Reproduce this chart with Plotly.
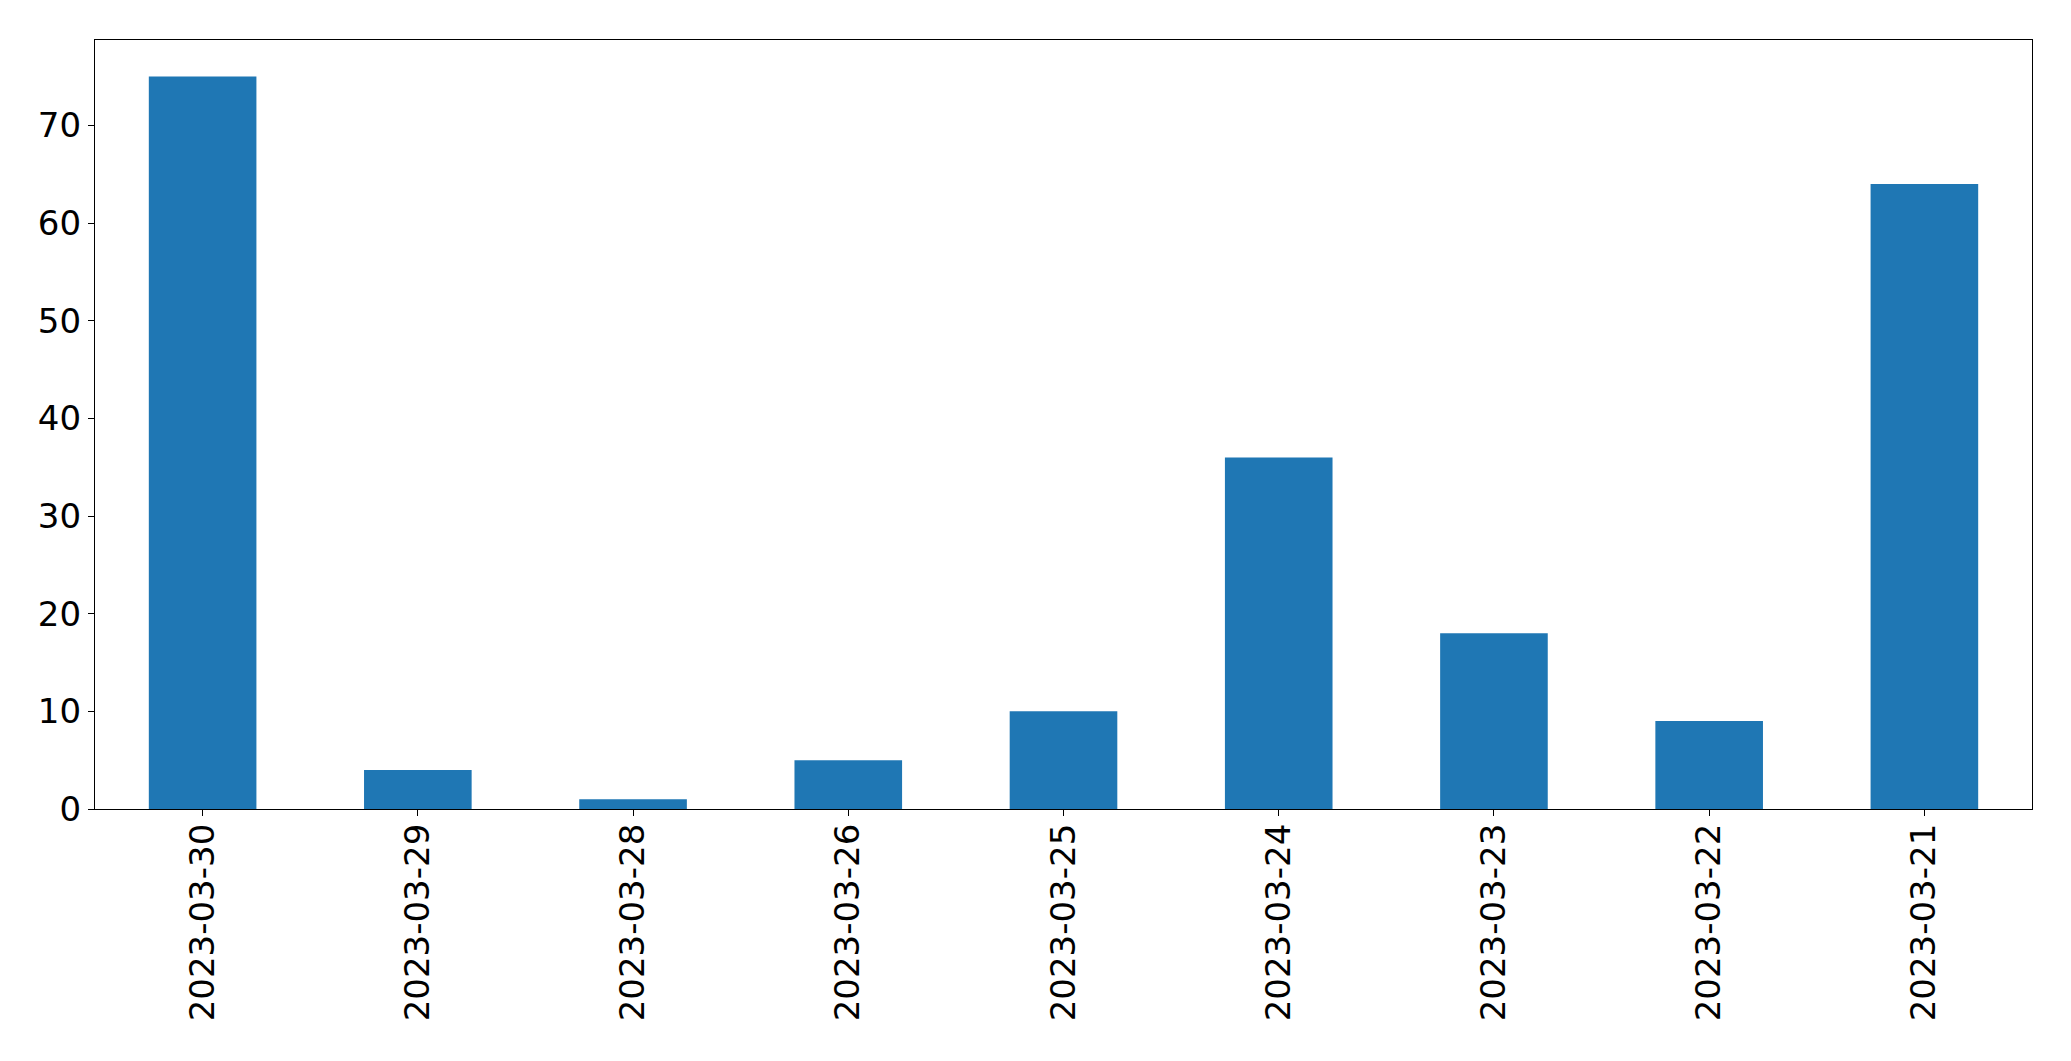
import plotly.graph_objects as go

dates = ["2023-03-30", "2023-03-29", "2023-03-28", "2023-03-26", "2023-03-25",
         "2023-03-24", "2023-03-23", "2023-03-22", "2023-03-21"]
counts = [75, 4, 1, 5, 10, 36, 18, 9, 64]
y_ticks = [0, 10, 20, 30, 40, 50, 60, 70]

fig = go.Figure(go.Bar(x=dates, y=counts, marker_color="#1f77b4", marker_line_width=0, width=0.5))

fig.update_layout(
    width=2071, height=1061,
    margin=dict(l=95, r=39, t=40, b=252, pad=0),
    plot_bgcolor="white", paper_bgcolor="white",
    font=dict(family="DejaVu Sans", size=34, color="black"),
    showlegend=False,
)
fig.update_xaxes(
    type="category", range=[-0.5, 8.5], tickangle=-90,
    showline=True, linecolor="black", linewidth=1.3, mirror=True,
    ticks="outside", ticklen=6, tickwidth=1.3, tickcolor="black",
    ticklabelstandoff=-6,
    showgrid=False, zeroline=False,
)
fig.update_yaxes(
    range=[0, 78.75], tickvals=y_ticks,
    showline=True, linecolor="black", linewidth=1.3, mirror=True,
    ticks="outside", ticklen=6, tickwidth=1.3, tickcolor="black",
    showgrid=False, zeroline=False,
)
fig.write_html("out.html", config={"displayModeBar": False},
               post_script="document.body.style.margin='0';")
